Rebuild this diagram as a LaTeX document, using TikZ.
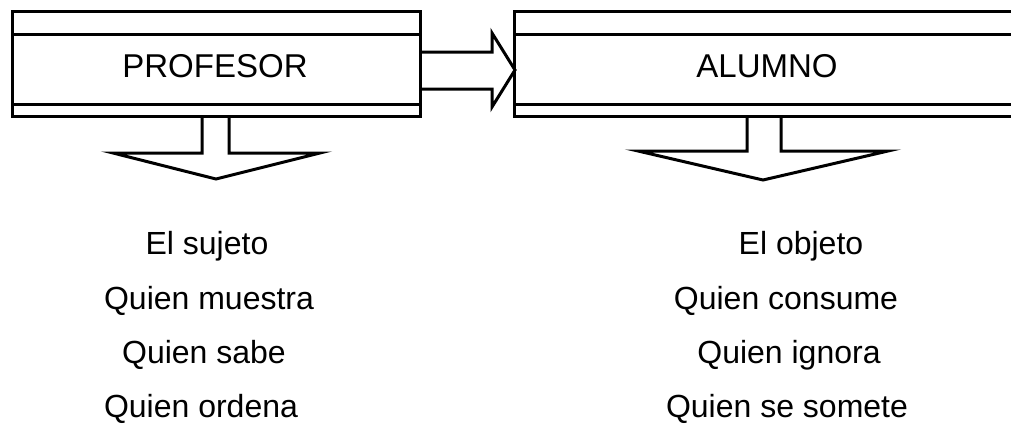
\documentclass[tikz,border=0pt]{standalone}
\usepackage{fontspec}
\setmainfont{Liberation Sans}
\tikzset{
  marco/.style={line width=3pt, line join=miter},
  cabecera/.style={font=\fontsize{33}{40}\selectfont, anchor=base, inner sep=0pt},
  rasgo/.style={font=\fontsize{32}{38}\selectfont, anchor=base, inner sep=0pt}
}
\begin{document}
\begin{tikzpicture}[x=1pt, y=-1pt]
    \useasboundingbox (0,0) rectangle (1011,423);
    \clip (0,0) rectangle (1011,423);
    \draw[marco] (12,11) rectangle (420,116);
    \draw[marco] (12,34) -- (420,34);
    \draw[marco] (12,104) -- (420,104);
    \draw[marco] (514,11) rectangle (1030,116);
    \draw[marco] (514,34) -- (1030,34);
    \draw[marco] (514,104) -- (1030,104);
    \draw[marco] (420,52) -- (492,52) -- (492,33) -- (515,70) -- (492,107) -- (492,89) -- (420,89);
    \draw[marco] (202,116) -- (202,153) -- (113,153) -- (216,179) -- (320,153) -- (229,153) -- (229,116);
    \draw[marco] (747,116) -- (747,151) -- (638,151) -- (763,180) -- (888,151) -- (781,151) -- (781,116);
    \node[cabecera] (profesor) at (215,77) {PROFESOR};
    \node[cabecera] (alumno) at (767,77) {ALUMNO};
    \foreach \x/\y/\texto/\nombre in {207/254/El sujeto/p1, 209/309/Quien muestra/p2,
        204/363/Quien sabe/p3, 201/417/Quien ordena/p4}
    \node[rasgo] (\nombre) at (\x,\y) {\texto};
    \foreach \x/\y/\texto/\nombre in {801/254/El objeto/a1, 786/309/Quien consume/a2,
        789/363/Quien ignora/a3, 787/417/Quien se somete/a4}
    \node[rasgo] (\nombre) at (\x,\y) {\texto};
  \end{tikzpicture}
\end{document}
